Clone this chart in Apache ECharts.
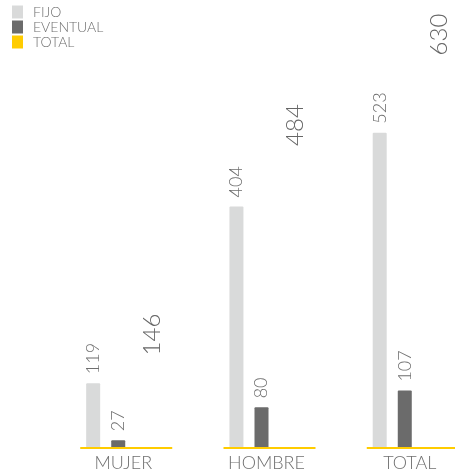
<!DOCTYPE html>
<html>
<head>
<meta charset="utf-8">
<script src="https://cdn.jsdelivr.net/npm/echarts@6/dist/echarts.min.js"></script>
<style>
  html, body { margin: 0; padding: 0; background: #ffffff; }
  #chart { width: 455px; height: 474px; }
</style>
</head>
<body>
<div id="chart"></div>
<script>
// Plantilla por género y tipo de contrato
const categories = ['MUJER', 'HOMBRE', 'TOTAL'];
const fijo = [119, 404, 523];
const eventual = [27, 80, 107];
const totales = [146, 484, 630];

const FONT = 'Lato, "Open Sans", sans-serif';
const Y_MIN = 16;
const Y_MAX = 700;

const chart = echarts.init(document.getElementById('chart'), null, { renderer: 'canvas' });

const smallLabel = {
  show: true,
  position: 'top',
  rotate: 90,
  align: 'left',
  verticalAlign: 'middle',
  distance: 9,
  fontFamily: FONT,
  fontWeight: 300,
  fontSize: 18,
  color: '#6f6f6f'
};

chart.setOption({
  animation: false,
  backgroundColor: '#ffffff',
  textStyle: { fontFamily: FONT },
  legend: {
    orient: 'vertical',
    left: 12,
    top: 5,
    padding: 0,
    itemGap: 1,
    itemWidth: 11,
    itemHeight: 13,
    icon: 'rect',
    selectedMode: false,
    textStyle: {
      fontFamily: FONT,
      fontWeight: 300,
      fontSize: 14,
      lineHeight: 13,
      color: '#6f6f6f',
      padding: [0, 0, 0, 5]
    },
    data: [
      { name: 'FIJO' },
      { name: 'EVENTUAL' },
      { name: 'TOTAL', itemStyle: { color: '#ffcc00' } }
    ]
  },
  // the last group runs slightly past the right edge of the canvas
  grid: {
    left: 46.6,
    right: -21.4,
    top: 23,
    bottom: 27,
    containLabel: false,
    outerBoundsMode: 'none'
  },
  xAxis: {
    type: 'category',
    data: categories,
    axisLine: { show: false },
    axisTick: { show: false },
    splitLine: { show: false },
    axisLabel: {
      margin: 7,
      fontFamily: FONT,
      fontWeight: 300,
      fontSize: 18,
      color: '#707070',
      padding: [0, 0, 0, 10]
    }
  },
  yAxis: {
    type: 'value',
    min: Y_MIN,
    max: Y_MAX,
    show: false,
    splitLine: { show: false }
  },
  series: [
    {
      name: 'FIJO',
      type: 'bar',
      data: fijo,
      barWidth: 14,
      barGap: '79%',
      itemStyle: { color: '#d9dada', borderRadius: [1, 1, 0, 0] },
      label: smallLabel
    },
    {
      name: 'EVENTUAL',
      type: 'bar',
      data: eventual,
      barWidth: 14,
      itemStyle: { color: '#6b6b6b', borderRadius: [1, 1, 0, 0] },
      label: smallLabel
    },
    {
      name: 'TOTAL',
      type: 'bar',
      data: totales,
      barWidth: 14,
      itemStyle: { color: 'rgba(0,0,0,0)' },
      label: Object.assign({}, smallLabel, {
        fontSize: 24,
        distance: 11,
        offset: [0, 9],
        color: '#666666'
      })
    },
    {
      // base amarilla bajo cada grupo de barras
      type: 'custom',
      silent: true,
      clip: false,
      z: 5,
      data: categories.map((c, i) => [i, totales[i]]),
      encode: { x: 0, y: 1 },
      renderItem: function (params, api) {
        const base = api.coord([api.value(0), Y_MIN]);
        const cx = base[0] + 8;
        return {
          type: 'line',
          shape: { x1: cx - 46, y1: base[1] + 1, x2: cx + 46, y2: base[1] + 1 },
          style: { stroke: '#ffcc00', lineWidth: 2 }
        };
      }
    }
  ]
});
</script>
</body>
</html>
